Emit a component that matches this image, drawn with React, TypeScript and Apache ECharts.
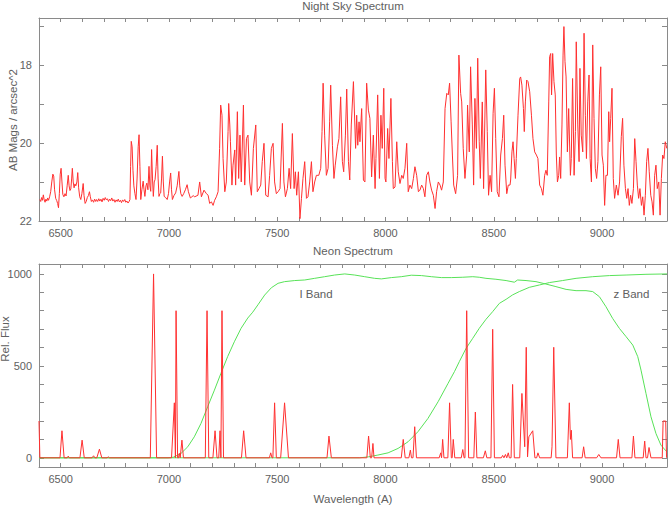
import { useEffect, useRef } from "react";
import * as echarts from "echarts";

// Night sky spectrum: [wavelength (A), AB mag / arcsec^2]
const skySpectrum: [number, number][] = [
  [6404,21.45],[6408,21.50],[6412,21.40],[6416,21.47],[6420,21.33],[6424,21.46],[6428,21.52],[6432,21.44],[6436,21.49],[6440,21.41],
  [6444,21.47],[6449,21.38],[6454,21.25],[6459,21.00],[6464,20.80],[6468,20.85],[6472,21.20],[6477,21.42],[6482,21.48],[6486,21.55],
  [6490,21.66],[6494,21.30],[6498,20.80],[6502,20.65],[6506,21.00],[6510,21.32],[6515,21.38],[6520,21.30],[6525,21.36],[6530,21.10],
  [6535,20.83],[6539,21.10],[6543,21.22],[6547,21.18],[6551,20.90],[6554,20.65],[6558,21.00],[6562,21.15],[6566,21.05],[6570,21.10],
  [6575,21.00],[6579,20.76],[6583,21.15],[6588,21.38],[6593,21.45],[6598,21.30],[6604,21.04],[6608,21.35],[6613,21.55],[6618,21.50],
  [6623,21.40],[6628,21.35],[6633,21.25],[6637,21.38],[6642,21.50],[6647,21.46],[6652,21.52],[6657,21.44],[6662,21.50],[6666,21.45],
  [6671,21.50],[6676,21.43],[6681,21.49],[6686,21.44],[6691,21.51],[6696,21.42],[6701,21.47],[6706,21.40],[6711,21.46],[6716,21.43],
  [6721,21.50],[6726,21.44],[6731,21.48],[6736,21.41],[6741,21.49],[6746,21.45],[6751,21.52],[6756,21.46],[6761,21.50],[6766,21.44],
  [6771,21.51],[6776,21.47],[6781,21.53],[6786,21.46],[6791,21.50],[6796,21.45],[6801,21.52],[6806,21.49],[6811,21.54],[6816,21.50],
  [6820,21.45],[6823,20.60],[6826,19.96],[6830,20.10],[6834,20.70],[6838,21.10],[6843,21.30],[6848,21.45],[6853,20.90],[6858,20.10],
  [6862,19.79],[6866,20.60],[6870,21.45],[6875,21.20],[6881,20.98],[6885,21.20],[6889,21.37],[6894,21.10],[6898,21.03],[6903,21.20],
  [6908,20.60],[6912,21.10],[6916,21.24],[6920,20.17],[6924,20.90],[6928,21.37],[6932,21.00],[6936,20.94],[6941,20.60],[6946,20.06],
  [6950,20.90],[6954,21.37],[6958,21.30],[6962,21.28],[6966,20.90],[6970,20.34],[6974,21.00],[6978,21.37],[6985,21.40],[6992,21.45],
  [6998,21.30],[7003,21.00],[7008,20.77],[7012,21.20],[7016,21.45],[7023,21.35],[7031,21.28],[7038,21.10],[7046,20.73],[7050,21.10],
  [7055,21.30],[7061,21.37],[7068,21.30],[7076,21.20],[7084,21.07],[7090,21.25],[7099,21.41],[7106,21.38],[7112,21.35],
  [7119,21.38],[7134,21.34],[7142,21.00],[7150,21.38],[7162,21.21],[7173,21.30],[7181,21.34],[7188,21.55],[7196,21.51],[7204,21.60],
  [7211,21.47],[7219,21.38],[7227,21.25],[7234,20.14],[7239,19.03],[7245,19.29],[7250,20.40],[7258,21.25],[7265,21.00],[7273,19.71],
  [7276,18.99],[7281,19.54],[7284,19.97],[7291,21.08],[7296,20.57],[7304,20.18],[7308,21.08],[7316,19.20],[7322,20.91],[7328,19.80],
  [7334,21.00],[7344,19.03],[7350,21.08],[7358,19.89],[7365,19.80],[7373,21.00],[7381,21.34],[7390,20.14],[7401,19.54],[7408,21.25],
  [7416,21.17],[7424,21.08],[7431,20.48],[7439,20.01],[7447,21.34],[7458,21.38],[7465,20.83],[7473,20.14],[7481,20.01],[7488,21.00],
  [7496,21.30],[7504,21.25],[7513,21.17],[7524,19.50],[7531,21.00],[7538,21.38],[7547,21.17],[7555,20.65],[7562,21.17],[7570,19.76],
  [7578,21.17],[7584,20.74],[7590,21.34],[7598,20.74],[7605,21.94],[7612,21.42],[7619,20.91],[7627,20.48],[7635,21.42],[7642,21.38],
  [7650,21.00],[7658,20.48],[7665,21.25],[7673,21.00],[7681,20.83],[7692,20.83],[7701,20.65],[7707,19.71],[7712,18.47],[7719,19.80],
  [7727,20.83],[7735,20.65],[7742,19.46],[7747,18.52],[7755,20.06],[7762,20.91],[7768,20.57],[7778,20.10],[7785,19.89],[7793,18.82],
  [7801,20.48],[7807,20.74],[7815,19.80],[7821,18.62],[7829,20.48],[7835,20.95],[7842,19.54],[7852,18.43],
  [7862,20.14],[7867,19.29],[7872,20.06],[7878,19.46],[7882,19.97],[7890,19.12],[7898,20.95],[7905,21.00],[7913,18.47],[7921,19.16],
  [7928,19.37],[7936,20.87],[7944,19.80],[7952,21.17],[7956,20.40],[7964,18.77],[7972,20.91],[7979,19.29],[7985,20.14],[7992,18.60],
  [7998,20.91],[8002,21.00],[8010,19.63],[8016,20.40],[8025,18.86],[8032,20.48],[8036,21.17],[8044,21.13],[8052,19.97],[8059,20.74],
  [8067,21.04],[8075,20.83],[8082,20.91],[8090,20.65],[8098,20.01],[8105,21.25],[8113,21.08],[8121,21.17],[8129,20.91],[8136,20.61],
  [8144,20.83],[8152,21.25],[8159,21.21],[8167,21.08],[8175,21.17],[8182,21.38],[8190,20.83],[8198,20.74],[8205,21.00],[8213,21.21],
  [8221,21.34],[8229,21.68],[8236,21.25],[8244,21.00],[8252,21.08],[8259,21.21],[8267,21.00],[8275,19.12],[8283,18.73],[8290,18.77],
  [8296,18.47],[8303,19.46],[8309,20.31],[8315,21.08],[8324,21.30],[8333,20.83],[8339,17.75],[8347,18.73],[8352,18.95],[8359,20.14],
  [8367,20.91],[8375,20.31],[8379,19.03],[8387,20.23],[8393,18.05],[8401,19.54],[8407,21.08],[8413,18.86],[8420,20.14],[8426,17.83],
  [8433,19.97],[8438,20.91],[8447,18.95],[8453,21.17],[8463,18.13],[8470,19.71],[8476,21.34],[8483,20.83],[8490,21.25],[8497,19.24],
  [8503,18.60],[8509,19.89],[8516,21.25],[8524,21.38],[8532,20.31],[8540,19.89],[8546,19.29],[8552,20.57],[8560,21.30],[8567,21.08],
  [8575,21.08],
  [8578,20.95],[8584,20.23],[8589,19.97],[8594,20.40],[8600,20.91],[8604,20.40],[8612,19.29],[8620,18.35],[8624,18.31],[8630,18.52],
  [8637,19.12],[8641,19.71],[8646,18.95],[8652,18.39],[8658,18.43],[8666,18.69],[8674,19.29],[8681,19.89],[8689,20.23],[8697,20.31],
  [8704,20.40],[8712,21.08],[8720,21.17],[8727,21.34],[8735,20.83],[8741,20.70],[8747,20.83],[8754,18.95],[8758,17.79],[8763,17.71],
  [8767,18.77],[8772,17.71],[8778,18.43],[8784,18.77],[8789,20.31],[8794,21.00],[8800,20.83],[8804,20.36],[8809,20.91],[8815,19.54],
  [8820,17.75],[8824,17.02],[8829,17.92],[8834,18.31],[8840,20.23],[8846,19.12],[8854,20.83],[8858,20.40],[8864,18.35],[8871,20.83],
  [8877,19.71],[8881,17.41],[8888,19.54],[8894,20.48],[8898,18.09],[8904,19.80],[8911,20.23],[8917,17.19],[8923,19.29],[8928,20.40],
  [8934,18.95],[8940,18.26],[8945,20.40],[8951,21.00],[8957,17.49],[8963,19.37],[8969,20.65],[8975,20.91],[8981,20.48],[8988,18.77],
  [8994,18.05],[9000,20.31],[9006,20.57],[9012,21.60],[9018,20.83],[9025,20.83],[9031,19.20],[9035,19.97],[9040,19.37],[9046,18.60],
  [9052,20.91],[9058,21.42],[9066,21.08],[9074,21.34],[9081,21.00],[9089,19.84],[9095,19.37],[9101,20.57],[9108,21.17],[9114,21.42],
  [9120,21.17],[9126,21.60],[9132,21.34],[9138,21.55],[9145,21.17],[9151,19.89],[9157,20.48],[9163,21.08],[9169,21.42],[9175,21.17],
  [9182,21.60],[9188,21.38],[9194,21.85],[9200,21.34],[9206,20.48],[9212,20.14],[9218,20.74],[9225,21.34],[9231,21.51],[9237,21.85],
  [9243,20.83],[9249,20.57],[9255,21.17],[9262,21.00],[9268,21.85],[9274,20.91],[9280,20.31],[9286,20.40],[9292,19.97],[9299,20.14],
];

// Neon arc spectrum: [wavelength (A), relative flux]
const neonSpectrum: [number, number][] = [
  [6400,200],[6404,0],[6497,0],[6506,147],[6516,0],[6530,0],[6535,9],[6540,0],[6589,0],[6599,96],[6609,0],[6645,0],[6652,11],[6658,0],
  [6667,0],[6679,47],[6690,0],[6714,0],[6720,5],[6726,0],[6914,0],[6929,1000],[6943,0],[7012,0],[7025,299],[7030,0],[7033,800],[7040,0],
  [7044,0],[7048,24],[7052,0],[7054,0],[7060,96],[7067,0],[7168,0],[7176,800],[7184,0],[7203,0],[7213,147],[7222,0],[7230,0],[7236,147],
  [7240,0],[7245,800],[7252,0],[7335,0],[7345,147],[7356,0],[7464,0],[7470,27],[7476,0],[7480,0],[7488,299],[7496,0],[7516,0],[7534,299],
  [7552,0],[7730,0],[7739,118],[7750,0],[7914,0],[7922,118],[7930,0],[7936,0],[7942,78],[7947,0],[8073,0],[8082,100],[8091,0],[8108,0],
  [8115,42],[8120,0],[8127,0],[8135,169],[8143,0],[8248,0],[8255,27],[8259,0],[8264,100],[8270,0],[8288,0],[8296,299],[8304,0],[8308,0],
  [8313,100],[8320,0],[8350,0],[8357,45],[8363,0],[8367,0],[8375,800],[8384,0],[8408,0],[8415,249],[8422,0],[8452,0],[8461,38],[8468,0],
  [8487,0],[8495,699],[8503,0],[8535,0],[8541,13],[8547,0],[8554,18],[8560,0],[8567,27],[8572,0],[8580,0],[8587,399],[8595,0],[8620,0],
  [8630,350],[8643,60],[8650,601],[8656,5],[8662,114],[8680,147],[8690,0],[8698,0],[8704,27],[8712,0],[8765,0],[8769,60],[8777,601],
  [8787,0],[8840,0],[8849,299],[8854,100],[8858,150],[8864,0],[8908,0],[8915,60],[8922,0],[8975,0],[8985,18],[8995,0],[9067,0],[9075,100],
  [9083,0],[9138,0],[9145,118],[9152,0],[9190,0],[9197,91],[9203,0],[9210,0],[9217,56],[9226,0],[9278,0],[9282,200],[9294,200],[9298,0],
  [9300,0],
];

// I band filter transmission (scaled)
const iBand: [number, number][] = [
  [6400,0],[6995,0],[7020,3],[7056,24],[7087,60],[7117,114],[7148,187],[7179,278],[7210,368],[7240,459],[7271,550],[7302,631],
  [7333,704],[7364,760],[7387,792],[7411,832],[7442,885],[7473,925],[7504,949],[7534,958],[7581,964],[7627,967],[7673,976],[7719,985],
  [7765,994],[7812,1000],[7858,994],[7904,985],[7950,976],[7981,973],[8027,980],[8073,985],[8119,993],[8166,991],[8212,985],[8258,980],
  [8304,980],[8357,982],[8403,985],[8433,982],[8464,976],[8510,971],[8557,964],[8595,955],[8610,967],[8649,964],[8695,958],[8741,945],
  [8787,931],[8834,916],[8880,909],[8926,909],[8957,904],[8988,876],[9018,822],[9049,758],[9080,704],[9111,659],[9142,613],[9165,550],
  [9180,477],[9203,350],[9226,223],[9249,132],[9272,69],[9295,38],[9300,33],
];

// z band filter transmission (scaled)
const zBand: [number, number][] = [
  [6400,0],[7880,0],[7920,5],[7965,15],[8012,27],[8058,51],[8104,87],[8150,142],[8196,214],[8243,305],[8289,405],[8319,470],
  [8341,523],[8372,595],[8403,650],[8433,704],[8464,753],[8495,795],[8526,840],[8557,862],[8587,886],[8618,904],[8664,927],[8711,940],
  [8757,953],[8818,964],[8880,976],[8957,985],[9034,991],[9111,994],[9203,998],[9300,1000],
];

const waveRange = [6400, 9300];
const waveLabels = [6500, 7000, 7500, 8000, 8500, 9000];
const magRange = [16.8, 22];
const magTicks = [17, 18, 19, 20, 21, 22];
const magLabels = [18, 20, 22];
const fluxRange = [-50, 1054];
const fluxTicks = [0, 100, 200, 300, 400, 500, 600, 700, 800, 900, 1000];
const fluxLabels = [0, 500, 1000];

const FRAME = "#8a8a8a";
const TEXT = "#606060";
const FONT = '"Liberation Sans", Arial, sans-serif';
const RED = "#ff3030";
const GREEN = "#58e258";

const GRID_LEFT = 39;
const GRID_W = 628;
const GRID_H = 203;
const TOP1 = 18;
const TOP2 = 264;

const plain = (v: number) => String(v);

function makeX(gridIndex: number, position: string, showLabels: boolean) {
  return {
    type: "value",
    gridIndex,
    position,
    min: waveRange[0],
    max: waveRange[1],
    interval: 100,
    axisLine: { show: true, onZero: false, lineStyle: { color: FRAME, width: 1 } },
    axisTick: { show: true, inside: true, length: 4, lineStyle: { color: FRAME, width: 1 } },
    axisLabel: {
      show: showLabels,
      customValues: waveLabels,
      formatter: plain,
      margin: 6,
      color: TEXT,
      fontSize: 11,
      fontFamily: FONT,
    },
    splitLine: { show: false },
  };
}

function makeY(
  gridIndex: number,
  position: string,
  showLabels: boolean,
  range: number[],
  inverse: boolean,
  ticks: number[],
  labels: number[]
) {
  return {
    type: "value",
    gridIndex,
    position,
    min: range[0],
    max: range[1],
    inverse,
    axisLine: { show: true, onZero: false, lineStyle: { color: FRAME, width: 1 } },
    axisTick: { show: true, inside: true, length: 5, customValues: ticks, lineStyle: { color: FRAME, width: 1 } },
    axisLabel: {
      show: showLabels,
      customValues: labels,
      formatter: plain,
      margin: 7,
      color: TEXT,
      fontSize: 11,
      fontFamily: FONT,
    },
    splitLine: { show: false },
  };
}

function label(text: string, x: number, y: number, rotate = false, size = 11) {
  return {
    type: "text",
    x,
    y,
    rotation: rotate ? Math.PI / 2 : 0,
    silent: true,
    style: {
      text,
      fill: TEXT,
      font: `${size}px ${FONT}`,
      textAlign: "center",
      textVerticalAlign: "middle",
      align: "center",
      verticalAlign: "middle",
    },
  };
}

export default function App() {
  const ref = useRef<HTMLDivElement>(null);

  useEffect(() => {
    if (!ref.current) return;
    const chart = echarts.init(ref.current, undefined, { renderer: "svg" });
    const centerX = GRID_LEFT + GRID_W / 2;
    chart.setOption({
      animation: false,
      backgroundColor: "#ffffff",
      grid: [
        { left: GRID_LEFT, top: TOP1, width: GRID_W, height: GRID_H, containLabel: false },
        { left: GRID_LEFT, top: TOP2, width: GRID_W, height: GRID_H, containLabel: false },
      ],
      xAxis: [makeX(0, "bottom", true), makeX(0, "top", false), makeX(1, "bottom", true), makeX(1, "top", false)],
      yAxis: [
        makeY(0, "left", true, magRange, true, magTicks, magLabels),
        makeY(0, "right", false, magRange, true, magTicks, magLabels),
        makeY(1, "left", true, fluxRange, false, fluxTicks, fluxLabels),
        makeY(1, "right", false, fluxRange, false, fluxTicks, fluxLabels),
      ],
      series: [
        {
          name: "Night Sky",
          type: "line",
          xAxisIndex: 0,
          yAxisIndex: 0,
          data: skySpectrum,
          showSymbol: false,
          symbol: "none",
          clip: true,
          lineStyle: { color: RED, width: 1 },
        },
        {
          name: "I Band",
          type: "line",
          xAxisIndex: 2,
          yAxisIndex: 2,
          data: iBand,
          showSymbol: false,
          symbol: "none",
          clip: true,
          lineStyle: { color: GREEN, width: 1 },
          z: 2,
        },
        {
          name: "z Band",
          type: "line",
          xAxisIndex: 2,
          yAxisIndex: 2,
          data: zBand,
          showSymbol: false,
          symbol: "none",
          clip: true,
          lineStyle: { color: GREEN, width: 1 },
          z: 2,
        },
        {
          name: "Neon",
          type: "line",
          xAxisIndex: 2,
          yAxisIndex: 2,
          data: neonSpectrum,
          showSymbol: false,
          symbol: "none",
          clip: true,
          lineStyle: { color: RED, width: 1 },
          z: 3,
        },
      ],
      graphic: [
        label("Night Sky Spectrum", centerX, 6, false, 11.5),
        label("Neon Spectrum", centerX, 250.5, false, 11.5),
        label("Wavelength (A)", centerX, 499, false, 11.5),
        label("AB Mags / arcsec^2", 13, 120, true, 11.5),
        label("Rel. Flux", 5, 339, true, 11.5),
        label("I Band", 316, 294, false, 11.5),
        label("z Band", 631.5, 294, false, 11.5),
      ],
    });
    return () => chart.dispose();
  }, []);

  return (
    <div
      ref={ref}
      style={{ position: "fixed", left: 0, top: 0, width: 668, height: 505, background: "#fff" }}
    />
  );
}
